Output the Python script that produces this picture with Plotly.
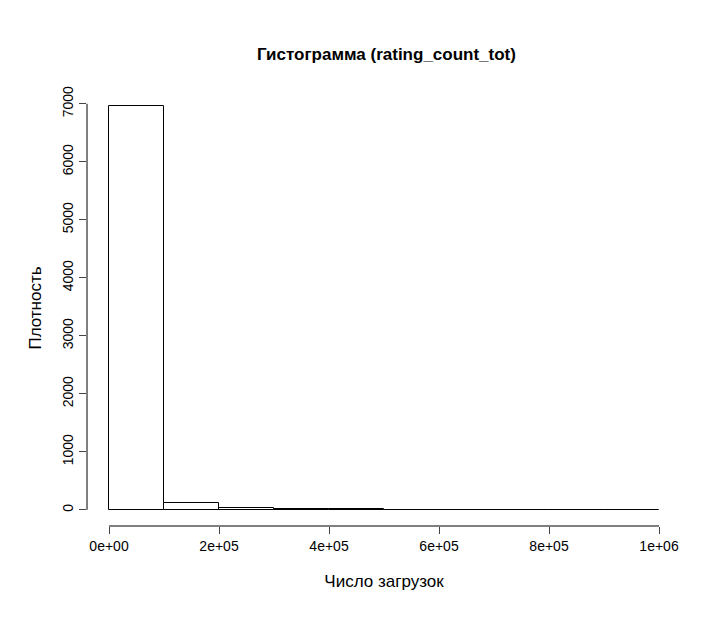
import numpy as np
import plotly.graph_objects as go

# histogram bins (0..1e6, width 1e5) and counts
bin_edges = np.arange(0, 1.1e6, 1e5)
counts = [6960, 120, 35, 12, 8, 3, 2, 1, 1, 1]
x_ticks = [0, 2e5, 4e5, 6e5, 8e5, 1e6]
x_labels = ["0e+00", "2e+05", "4e+05", "6e+05", "8e+05", "1e+06"]
y_ticks = [0, 1000, 2000, 3000, 4000, 5000, 6000, 7000]

centers = (bin_edges[:-1] + bin_edges[1:]) / 2

fig = go.Figure()
fig.add_trace(go.Bar(
    x=centers, y=counts, width=1e5,
    marker=dict(color="white", line=dict(color="black", width=1)),
))

font = dict(family="Liberation Sans, Arial", size=14, color="black")
fig.update_layout(
    width=714, height=617,
    paper_bgcolor="white", plot_bgcolor="white",
    margin=dict(l=79, r=41, t=82, b=99),
    showlegend=False,
    font=font,
    title=dict(text="<b>Гистограмма (rating_count_tot)</b>", x=0.53, xanchor="center",
               y=0.935, font=dict(size=17, family="Liberation Sans, Arial")),
    xaxis=dict(range=[-0.04e6, 1.04e6], tickvals=x_ticks, ticktext=x_labels,
               ticks="outside", ticklen=7, showgrid=False, zeroline=False,
               title=dict(text="Число загрузок", standoff=22)),
    yaxis=dict(range=[-278, 7238], tickvals=y_ticks, tickangle=-90,
               ticks="outside", ticklen=7, showgrid=False, zeroline=False,
               title=dict(text="Плотность", standoff=14)),
    bargap=0,
)
# R-style axis lines spanning only the tick range
fig.add_shape(type="line", xref="x", yref="paper", x0=0, x1=1e6, y0=0, y1=0,
              line=dict(color="black", width=1))
fig.add_shape(type="line", xref="paper", yref="y", x0=0, x1=0, y0=0, y1=7000,
              line=dict(color="black", width=1))

fig.write_html("out.html")
